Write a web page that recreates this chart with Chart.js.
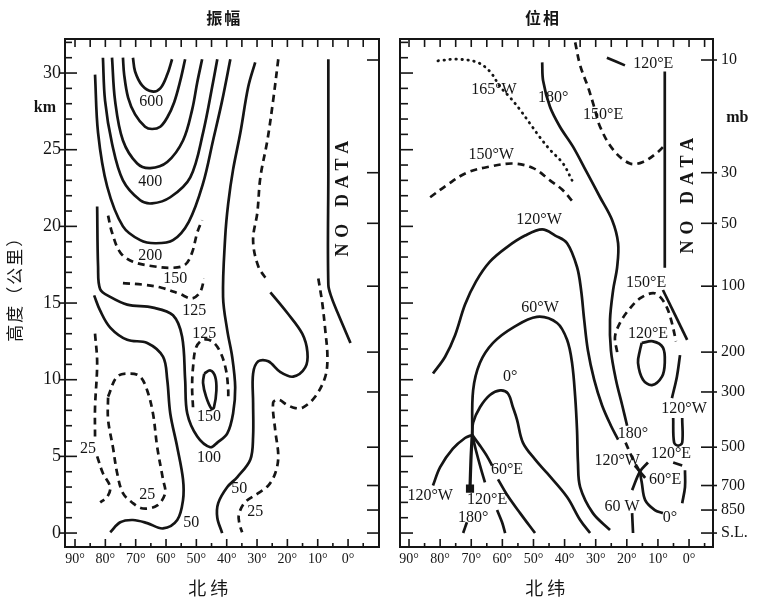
<!DOCTYPE html>
<html>
<head>
<meta charset="utf-8">
<script src="https://cdn.jsdelivr.net/npm/chart.js@4.4.1/dist/chart.umd.min.js"></script>
<style>
  html, body { margin: 0; padding: 0; background: #fff; }
  #wrap { position: relative; width: 762px; height: 597px; }
  canvas { position: absolute; top: 0; }
  #amp { left: 0; }
  #pha { left: 392px; }
</style>
</head>
<body>
<div id="wrap">
  <canvas id="amp" width="392" height="597"></canvas>
  <canvas id="pha" width="370" height="597"></canvas>
</div>
<script>
// axes
const latTicks = [90, 80, 70, 60, 50, 40, 30, 20, 10, 0];
const kmTicks = [0, 5, 10, 15, 20, 25, 30];
const mbLabels = ['10', '30', '50', '100', '200', '300', '500', '700', '850', 'S.L.'];
const mbHeights = [30.85, 23.5, 20.2, 16.1, 11.8, 9.2, 5.6, 3.1, 1.5, 0];

// 振幅 contours, [latitude, km]
const amp600 = [[70.9,31.0],[70.2,30.1],[67.9,29.2],[64.6,28.8],[61.9,29.0],[59.6,29.9],[58.0,30.9]];
const amp500 = [[74.2,31.0],[73.8,29.9],[72.5,28.4],[70.2,27.3],[66.9,26.5],[64.6,26.35],[61.9,26.5],[59.6,27.1],[57.3,28.1],[55.3,29.5],[53.7,30.9]];
const amp400 = [[77.8,31.0],[76.8,28.2],[74.2,25.6],[69.5,24.1],[65.2,23.8],[59.6,24.2],[54.4,25.6],[51.4,27.6],[49.7,29.4],[48.1,30.9]];
const amp300 = [[80.8,31.0],[80.1,28.2],[77.8,25.4],[74.2,23.0],[68.5,21.7],[64.6,21.5],[58.6,21.9],[52.0,23.2],[47.8,26.1],[44.5,29.4],[43.1,30.9]];
const amp200 = [[83.4,29.9],[82.4,26.1],[79.4,22.6],[74.2,20.0],[68.5,19.1],[63.6,18.9],[57.7,19.1],[52.5,20.3],[47.8,22.8],[44.5,25.6],[41.5,28.2],[38.8,30.9]];
const amp150 = [[79.1,20.7],[77.8,19.6],[75.1,18.3],[70.9,17.7],[64.3,17.4],[57.7,17.3],[53.7,17.5],[51.4,18.3],[49.7,19.6],[48.1,20.4]];
const amp125 = [[74.2,16.3],[67.6,16.2],[61.5,16.0],[55.5,15.6],[51.5,15.3],[48.8,15.7],[47.4,16.6]];
const amp100 = [[82.7,21.3],[82.4,17.4],[81.7,15.9],[78.4,15.4],[72.8,14.9],[64.3,14.7],[57.7,14.2],[54.7,12.8],[53.7,10.0],[53.0,7.8],[49.7,6.3],[45.4,5.6],[43.1,5.9],[39.8,6.5],[37.9,7.8],[37.2,9.5],[38.2,11.5],[39.8,13.2],[41.2,15.4],[40.5,19.3],[39.5,21.5],[37.9,23.7],[35.5,26.1],[32.9,29.1],[30.6,30.7]];
const ampBlob125 = [[51.1,8.2],[51.4,9.5],[51.1,10.8],[50.1,12.1],[47.8,12.6],[44.8,12.5],[42.1,11.8],[40.2,10.6],[39.5,9.3],[39.5,8.8]];
const ampBlob150 = [[47.4,10.4],[45.4,10.6],[43.8,10.2],[43.4,9.3],[44.2,8.2],[45.0,8.1],[46.8,8.9],[47.8,9.8],[47.4,10.4]];
const amp50West = [[83.7,15.5],[81.7,14.5],[78.4,13.4],[72.8,12.6],[66.2,12.4],[61.0,11.5],[59.6,10.0],[58.6,7.8],[56.3,5.6],[54.4,3.5],[54.4,2.15],[56.3,0.85],[61.0,0.3],[66.2,0.65],[70.9,0.85],[75.1,0.7],[78.4,0.05]];
const amp50East = [[25.6,15.7],[20.0,14.35],[15.1,13.0],[13.4,11.8],[14.1,10.8],[18.1,10.2],[22.3,10.5],[26.3,11.2],[29.6,11.2],[31.3,10.4],[31.3,8.5],[31.3,6.3],[32.2,4.8],[36.5,3.65],[39.8,3.0],[42.8,1.95],[43.1,1.0],[41.5,0]];
const amp50Upper = [[23.0,30.9],[24.7,28.2],[26.6,25.6],[28.9,23.2],[29.9,20.9],[31.3,19.1],[29.6,17.4],[26.3,16.4]];
const amp25East = [[9.8,16.6],[8.5,15.0],[7.5,13.2],[6.8,11.5],[7.5,10.2],[10.8,8.9],[14.8,8.2],[17.4,8.15],[20.0,8.35],[23.0,8.7],[24.7,8.5],[24.0,6.7],[23.0,5.0],[24.0,3.9],[26.3,3.1],[29.6,2.6],[34.0,2.0],[36.0,1.2],[35.8,0.6],[34.9,0.05]];
const amp25WestA = [[83.4,13.0],[82.7,11.1],[83.4,8.2],[83.4,6.3]];
const amp25WestB = [[82.7,5.0],[80.8,3.9],[78.4,3.0],[79.4,2.35],[81.7,2.0]];
const amp25Inner = [[79.1,8.9],[76.1,10.2],[71.8,10.4],[68.5,10.2],[66.2,9.3],[64.3,7.8],[62.9,5.6],[61.0,3.5],[60.3,2.6],[62.9,1.8],[67.6,1.6],[70.9,1.95],[74.2,2.6],[76.1,3.9],[77.5,5.6],[79.1,7.4],[79.1,8.9]];
const ampNoData = [[6.5,30.9],[6.5,23.5],[6.5,16.2],[5.5,15.4],[3.5,14.4],[-0.8,12.4]];

const ampLabels = [
  ['600',64.9,28.1],['400',65.2,22.9],['200',65.2,18.1],['150',57.0,16.6],
  ['125',50.7,14.5],['125',47.4,13.0],['150',45.8,7.6],['100',45.8,4.9],
  ['25',85.7,5.5],['25',66.2,2.5],['50',51.7,0.7],['50',35.9,2.9],['25',30.6,1.4]
];
const ampCaptions = [
  ['振幅',40.8,33.6,'title'],['北纬',45.4,-3.6,'axis'],['高度（公里）',109.8,16.2,'side'],
  ['km',99.9,27.7,'unit'],['NO DATA',1.5,22.0,'nodata']
];

// 位相 contours, [latitude, km]
const pha165W = [[80.7,30.8],[74.6,30.9],[68.1,30.7],[64.0,30.1],[60.7,29.1],[57.5,28.4],[54.3,27.6],[51.1,26.7],[47.9,25.8],[44.7,25.0],[40.5,24.1],[37.6,23.0]];
const pha150W = [[83.2,21.9],[77.8,22.7],[71.4,23.5],[64.0,23.9],[56.6,24.1],[50.1,23.8],[44.7,23.0],[40.8,22.4],[37.3,21.6]];
const pha180 = [[47.2,30.7],[46.9,29.5],[44.7,27.8],[41.5,26.5],[37.3,25.2],[32.8,23.5],[28.6,21.9],[24.7,20.4],[22.8,18.9],[23.1,17.35],[24.4,15.85],[25.4,13.9],[25.1,11.9],[23.5,10.0],[21.5,8.35],[19.9,7.0]];
const pha180Tail = [[20.4,5.9],[18.0,4.8],[15.8,4.0]];
const pha150ETop = [[36.6,32.0],[35.0,30.5],[32.5,29.1],[30.5,27.8],[28.6,26.5],[24.4,25.0],[19.0,24.1],[14.8,24.2],[10.3,24.8],[7.8,25.3]];
const pha120ETop = [[26.4,31.0],[20.6,30.5]];
const pha120EVert = [[7.8,30.1],[7.8,17.3]];
const pha120W = [[82.3,10.4],[78.4,11.5],[75.2,12.9],[72.0,14.9],[68.5,16.4],[64.0,17.7],[58.5,18.65],[52.7,19.4],[47.2,19.8],[43.0,19.4],[39.2,18.9],[36.0,17.35],[34.7,15.85],[33.7,13.9],[32.5,11.9],[30.5,10.0],[28.0,8.35],[25.1,7.0],[22.8,6.1]];
const pha60W = [[69.7,6.4],[69.4,9.3],[67.2,11.1],[63.0,12.4],[56.6,13.4],[48.9,14.1],[42.4,13.7],[39.2,12.6],[37.6,11.1],[36.6,8.9],[36.0,6.7],[35.7,4.6],[35.0,3.0],[30.9,1.3],[25.4,0.2]];
const pha0 = [[69.7,6.4],[69.4,7.2],[67.2,8.2],[64.0,9.0],[60.7,9.3],[58.2,9.1],[56.6,8.2],[55.3,7.4],[53.4,5.9],[49.5,4.8],[45.6,3.9],[39.2,2.35],[35.0,0.85],[31.8,0]];
const pha120WLow = [[82.3,3.1],[80.0,4.3],[75.9,5.5],[72.0,6.2],[69.7,6.4]];
const pha60EA = [[69.7,6.4],[67.2,5.7],[64.9,5.0],[63.3,4.4]];
const pha60EB = [[61.4,3.5],[58.5,2.5],[54.3,1.3],[49.5,0]];
const pha120EA = [[69.7,6.4],[68.5,5.4],[66.9,4.2],[65.6,3.3]];
const pha120EB = [[61.7,1.5],[60.1,0.7],[59.1,0]];
const phaStem = [[69.7,6.4],[70.1,4.8],[70.4,2.9]];
const pha180Low = [[71.4,0.7],[72.6,0]];
const pha150EDiag = [[8.4,15.85],[0.6,12.6]];
const pha150ELoop = [[23.1,11.8],[23.8,12.8],[22.2,13.7],[19.6,14.5],[15.8,15.3],[11.6,15.65],[9.3,15.4],[7.1,14.7],[5.5,13.7],[4.2,12.5]];
const pha120EOval = [[15.2,12.4],[11.6,12.5],[8.4,12.1],[7.8,11.1],[8.7,10.2],[11.9,9.65],[14.8,10.0],[16.4,11.1],[15.8,11.9],[15.2,12.4]];
const pha120WEast = [[2.9,11.6],[3.9,10.2],[5.5,8.8]];
const pha120WLoop = [[5.1,7.5],[4.8,5.9],[3.5,5.7],[2.2,5.9],[2.2,7.5]];
const pha120EShort = [[5.1,4.6],[2.2,4.4]];
const pha60EEast = [[1.3,4.1],[1.3,3.0],[2.2,1.95]];
const phaCrossA = [[18.3,2.8],[15.8,4.0],[13.2,4.6]];
const phaCrossB = [[17.4,4.4],[15.8,4.0],[14.1,3.6]];
const pha0East = [[15.8,4.0],[15.2,3.3],[14.1,2.15],[11.0,1.5],[8.4,1.3]];
const pha60WEast = [[18.3,1.3],[18.0,0]];

const phaLabels = [
  ['165°W',62.7,28.9],['180°',43.7,28.4],['150°E',27.6,27.3],['120°E',11.5,30.6],
  ['150°W',63.6,24.7],['120°W',48.2,20.4],['60°W',47.9,14.7],['0°',57.5,10.2],
  ['150°E',13.8,16.3],['120°E',13.2,13.0],['120°W',1.6,8.1],['180°',18.0,6.5],
  ['120°W',23.1,4.7],['120°E',5.8,5.2],['60°E',7.7,3.5],['60 W',21.5,1.7],['0°',6.1,1.0],
  ['60°E',58.5,4.1],['120°W',83.2,2.4],['120°E',64.9,2.2],['180°',69.4,1.0]
];
const phaCaptions = [
  ['位相',46.9,33.6,'title'],['北纬',45.6,-3.6,'axis'],['mb',-15.5,27.1,'unit'],['NO DATA',0.3,22.2,'nodata']
];

const ink = '#151515';
const serif = '"Liberation Serif", "DejaVu Serif", serif';
const cjk = '"Noto Sans CJK SC", sans-serif';

const strokes = {
  solid: {},
  dash: { borderDash: [7, 5] },
  dot: { borderDash: [0.5, 5.5], borderCapStyle: 'round', borderWidth: 2.8 },
  stem: { borderWidth: 3.2, pointRadius: [0, 0, 3.5], pointStyle: 'rect', pointBackgroundColor: '#151515' }
};

const looks = {
  c: { font: `16px ${serif}` },
  title: { font: `600 16px ${cjk}`, spacing: 2 },
  axis: { font: `18px ${cjk}`, spacing: 4 },
  side: { font: `17px ${cjk}`, spacing: 2, rot: -Math.PI / 2 },
  unit: { font: `bold 16px ${serif}` },
  nodata: { font: `bold 18px ${serif}`, spacing: 6, rot: -Math.PI / 2 }
};

const ampLines = [
  [amp600, 'solid'], [amp500, 'solid'], [amp400, 'solid'], [amp300, 'solid'], [amp200, 'solid'],
  [amp150, 'dash'], [amp125, 'dash'], [amp100, 'solid'], [ampBlob125, 'dash'], [ampBlob150, 'solid'],
  [amp50West, 'solid'], [amp50East, 'solid'], [amp50Upper, 'dash'], [amp25East, 'dash'],
  [amp25WestA, 'dash'], [amp25WestB, 'dash'], [amp25Inner, 'dash'], [ampNoData, 'solid']
];

const phaLines = [
  [pha165W, 'dot'], [pha150W, 'dash'], [pha180, 'solid'], [pha180Tail, 'dash'], [pha150ETop, 'dash'],
  [pha120ETop, 'solid'], [pha120EVert, 'solid'], [pha120W, 'solid'], [pha60W, 'solid'], [pha0, 'solid'],
  [pha120WLow, 'solid'], [pha60EA, 'solid'], [pha60EB, 'solid'], [pha120EA, 'solid'], [pha120EB, 'solid'],
  [phaStem, 'stem'], [pha180Low, 'solid'], [pha150EDiag, 'solid'], [pha150ELoop, 'dash'],
  [pha120EOval, 'solid'], [pha120WEast, 'solid'], [pha120WLoop, 'solid'], [pha120EShort, 'solid'],
  [pha60EEast, 'solid'], [phaCrossA, 'solid'], [phaCrossB, 'solid'], [pha0East, 'solid'], [pha60WEast, 'solid']
];

const toDatasets = lines => lines.map(([pts, kind]) => ({
  data: pts.map(([lat, km]) => ({ x: lat, y: km })),
  showLine: true,
  pointRadius: 0,
  borderColor: ink,
  borderWidth: 2.7,
  tension: 0.35,
  fill: false,
  ...strokes[kind]
}));

// ticks and frame drawn through the scales
const frame = o => ({
  id: 'frame',
  afterDatasetsDraw(chart) {
    const { ctx, chartArea: a, scales: { x, y } } = chart;
    const seg = (x1, y1, x2, y2) => { ctx.beginPath(); ctx.moveTo(x1, y1); ctx.lineTo(x2, y2); ctx.stroke(); };
    ctx.save();
    ctx.strokeStyle = ink;
    ctx.lineWidth = 1.6;
    for (let k = 0; k <= 32; k++) {
      const py = y.getPixelForValue(k);
      const major = k % 5 === 0;
      seg(a.left - (major ? o.kmOut : 0), py, a.left + (major ? o.kmMajor : o.kmMinor), py);
    }
    mbHeights.forEach(h => {
      const py = y.getPixelForValue(h);
      seg(a.right - 12, py, a.right + o.mbOut, py);
    });
    for (let lat = 90; lat >= -10; lat -= 5) {
      const px = x.getPixelForValue(lat);
      if (px < a.left + 2 || px > a.right - 2) continue;
      seg(px, a.top, px, a.top + 8);
      seg(px, a.bottom, px, a.bottom - (lat % 10 === 0 ? 8 : 4));
    }
    ctx.lineWidth = 2;
    ctx.strokeRect(a.left, a.top, a.right - a.left, a.bottom - a.top);
    ctx.restore();
  }
});

const notes = lists => ({
  id: 'notes',
  afterDraw(chart) {
    const { ctx, scales: { x, y } } = chart;
    ctx.save();
    ctx.fillStyle = ink;
    ctx.textAlign = 'center';
    ctx.textBaseline = 'middle';
    lists.flat().forEach(([text, lat, km, kind]) => {
      const s = looks[kind || 'c'];
      ctx.save();
      ctx.font = s.font;
      ctx.letterSpacing = (s.spacing || 0) + 'px';
      ctx.translate(x.getPixelForValue(lat), y.getPixelForValue(km));
      if (s.rot) ctx.rotate(s.rot);
      ctx.fillText(text, 0, 0);
      ctx.restore();
    });
    ctx.restore();
  }
});

const latAxis = (min, max) => ({
  type: 'linear', position: 'bottom', reverse: true, min, max,
  grid: { display: false, drawTicks: false }, border: { display: false },
  afterBuildTicks: s => { s.ticks = latTicks.map(v => ({ value: v })); },
  afterFit: s => { s.height = 50; },
  ticks: { autoSkip: false, maxRotation: 0, padding: 4, color: ink,
           font: { family: serif, size: 14 }, callback: v => v + '°' }
});

const kmRange = { min: -0.91, max: 32.22 };

new Chart(document.getElementById('amp'), {
  type: 'scatter',
  data: { datasets: toDatasets(ampLines) },
  options: {
    responsive: false, animation: false, events: [], devicePixelRatio: 1,
    layout: { padding: { top: 39, right: 13, left: 0, bottom: 0 } },
    plugins: { legend: { display: false }, tooltip: { enabled: false } },
    scales: {
      x: latAxis(-10.2, 93.3),
      y: {
        type: 'linear', position: 'left', ...kmRange,
        grid: { display: false, drawTicks: false }, border: { display: false },
        afterBuildTicks: s => { s.ticks = kmTicks.map(v => ({ value: v })); },
        afterFit: s => { s.width = 65; },
        ticks: { padding: 4, color: ink, font: { family: serif, size: 18 } }
      }
    }
  },
  plugins: [frame({ kmOut: 5, kmMajor: 12, kmMinor: 7, mbOut: 0 }), notes([ampLabels, ampCaptions])]
});

new Chart(document.getElementById('pha'), {
  type: 'scatter',
  data: { datasets: toDatasets(phaLines) },
  options: {
    responsive: false, animation: false, events: [], devicePixelRatio: 1,
    layout: { padding: { top: 39, right: 0, left: 8, bottom: 0 } },
    plugins: { legend: { display: false }, tooltip: { enabled: false } },
    scales: {
      x: latAxis(-7.7, 92.9),
      y: { type: 'linear', display: false, ...kmRange },
      mb: {
        type: 'linear', position: 'right', ...kmRange,
        grid: { display: false, drawTicks: false }, border: { display: false },
        afterBuildTicks: s => { s.ticks = mbHeights.map(v => ({ value: v })); },
        afterFit: s => { s.width = 49; },
        ticks: { padding: 8, color: ink, font: { family: serif, size: 16 },
                 callback: v => mbLabels[mbHeights.indexOf(v)] }
      }
    }
  },
  plugins: [frame({ kmOut: 0, kmMajor: 13, kmMinor: 8, mbOut: 4 }), notes([phaLabels, phaCaptions])]
});
</script>
</body>
</html>
